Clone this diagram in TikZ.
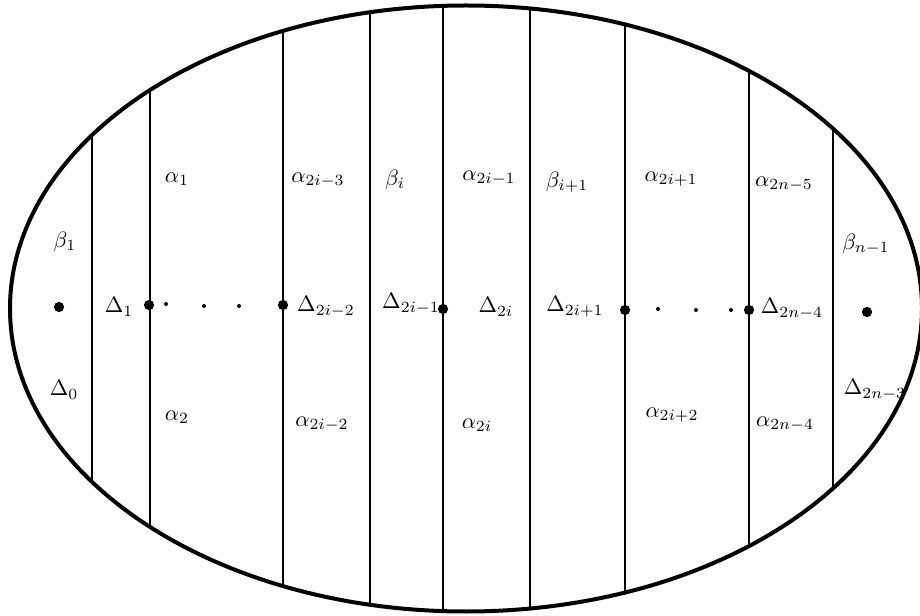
\documentclass[tikz,border=0pt]{standalone}
\usepackage{amsmath,amssymb}
\usetikzlibrary{positioning}

\tikzset{
  rim/.style={line width=1.8pt},
  cut/.style={line width=0.9pt},
  bigdot/.style={circle, fill, inner sep=0pt, minimum size=4.6pt},
  smalldot/.style={circle, fill, inner sep=0pt, minimum size=1.8pt},
  lab/.style={inner sep=1pt},
}

\begin{document}
\begin{tikzpicture}[x=0.45pt, y=-0.45pt]
\useasboundingbox (0,0) rectangle (920,616);

% Cutting lines, clipped to the disc
\begin{scope}
\clip (466,308.5) ellipse [x radius=456, y radius=303];
\foreach \x in {92,150,283,370,443,530,625,749,833} {
    \draw[cut] (\x,0) -- (\x,616);
}
\end{scope}

% Outer ellipse
\draw[rim] (466,308.5) ellipse [x radius=456, y radius=303];

% Marked points
\node[bigdot] (p0) at (59,307) {};
\node[bigdot] (p1) at (149,305) {};
\node[bigdot] (p2) at (283,305) {};
\node[bigdot] (p3) at (443,309) {};
\node[bigdot] (p4) at (625,310) {};
\node[bigdot] (p5) at (749,310) {};
\node[bigdot] (p6) at (867,312) {};

% Dots in between
\foreach \x/\y [count=\k] in {166/304, 204/306, 239/306, 658/309, 696/310, 731/310} {
    \node[smalldot] (s\k) at (\x,\y) {};
}

% Delta labels
\node[lab] (D0) at (64,390) {$\Delta_0$};
\node[lab] (D1) at (119,307) {$\Delta_1$};
\node[lab] (D2) at (326,307) {$\Delta_{2i-2}$};
\node[lab] (D3) at (411,304) {$\Delta_{2i-1}$};
\node[lab] (D4) at (496,307) {$\Delta_{2i}$};
\node[lab] (D5) at (575,307) {$\Delta_{2i+1}$};
\node[lab] (D6) at (792,309) {$\Delta_{2n-4}$};
\node[lab] (D7) at (875,390) {$\Delta_{2n-3}$};

% Beta labels
\node[lab] (b1) at (65,242) {$\beta_1$};
\node[lab] (bi) at (395,180) {$\beta_i$};
\node[lab] (bj) at (567,182) {$\beta_{i+1}$};
\node[lab] (bn) at (866,244) {$\beta_{n-1}$};

% Alpha labels
\node[lab] (a1) at (177,179) {$\alpha_1$};
\node[lab] (a2) at (177,417) {$\alpha_2$};
\node[lab] (a3) at (318,180) {$\alpha_{2i-3}$};
\node[lab] (a4) at (322,424) {$\alpha_{2i-2}$};
\node[lab] (a5) at (489,178) {$\alpha_{2i-1}$};
\node[lab] (a6) at (477,425) {$\alpha_{2i}$};
\node[lab] (a7) at (671,179) {$\alpha_{2i+1}$};
\node[lab] (a8) at (672,415) {$\alpha_{2i+2}$};
\node[lab] (a9) at (784,184) {$\alpha_{2n-5}$};
\node[lab] (a10) at (785,424) {$\alpha_{2n-4}$};

\end{tikzpicture}
\end{document}
